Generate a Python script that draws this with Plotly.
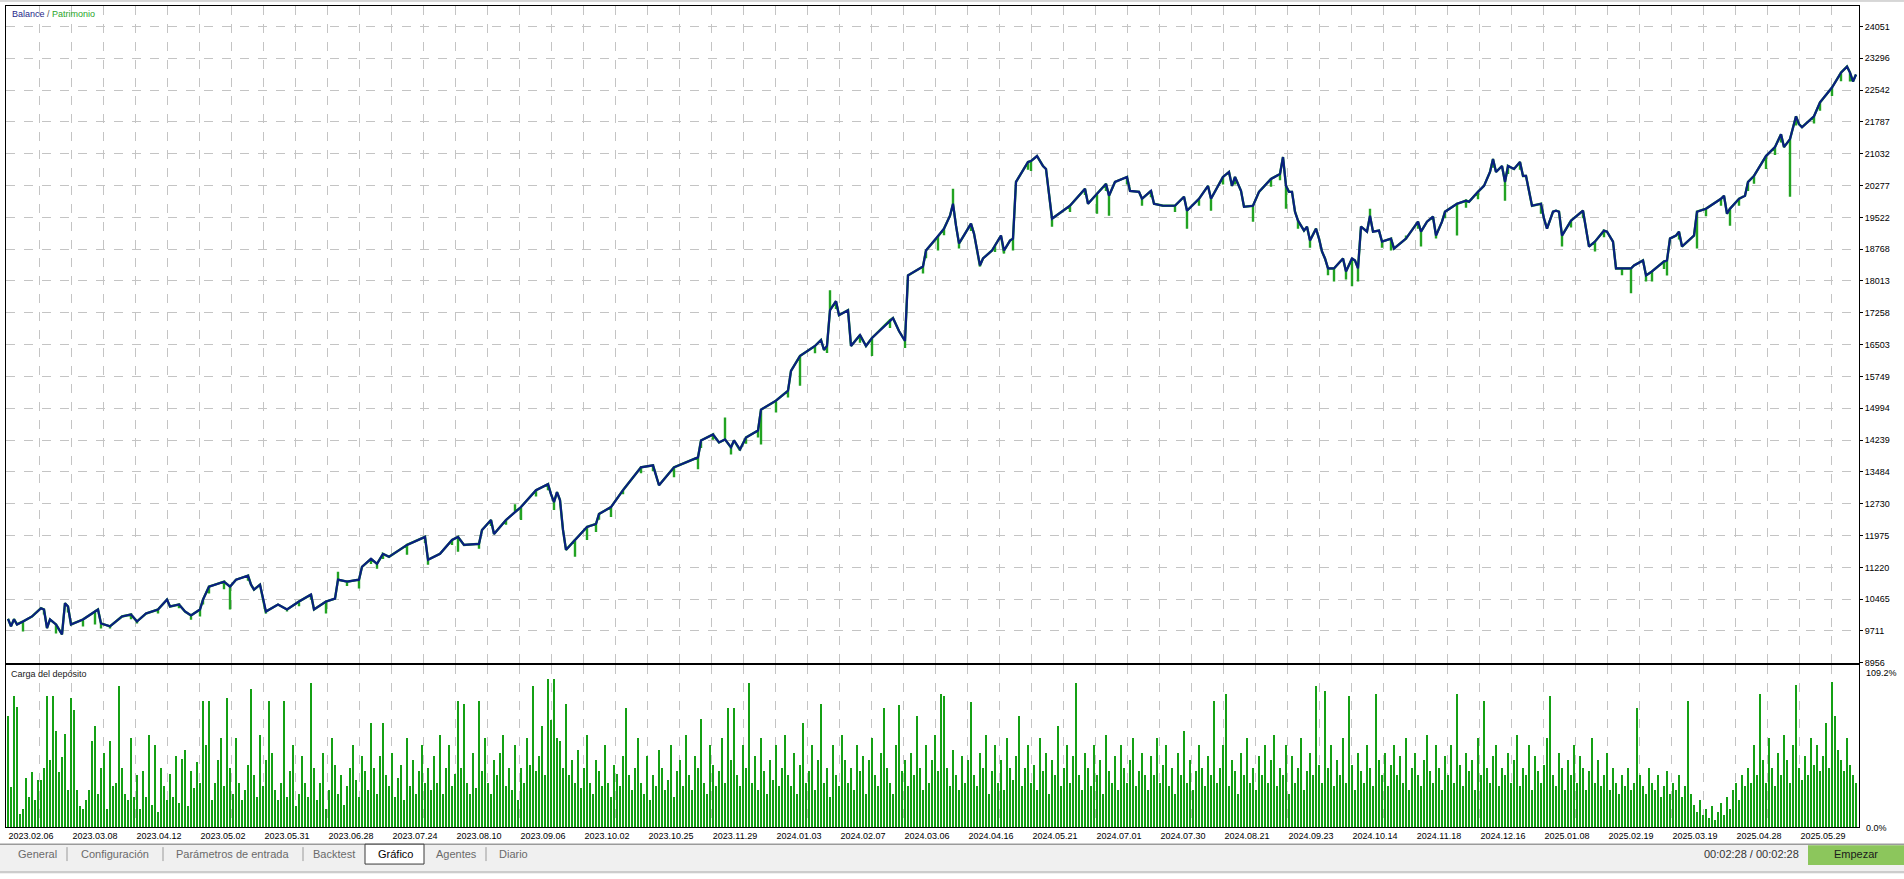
import plotly.graph_objects as go

# ---------------- data ----------------
dates = ["2023.02.06", "2023.03.08", "2023.04.12", "2023.05.02", "2023.05.31", "2023.06.28",
         "2023.07.24", "2023.08.10", "2023.09.06", "2023.10.02", "2023.10.25", "2023.11.29",
         "2024.01.03", "2024.02.07", "2024.03.06", "2024.04.16", "2024.05.21", "2024.07.01",
         "2024.07.30", "2024.08.21", "2024.09.23", "2024.10.14", "2024.11.18", "2024.12.16",
         "2025.01.08", "2025.02.19", "2025.03.19", "2025.04.28", "2025.05.29"]

y_ticks = [8956, 9711, 10465, 11220, 11975, 12730, 13484, 14239, 14994, 15749, 16503,
           17258, 18013, 18768, 19522, 20277, 21032, 21787, 22542, 23296, 24051]

# balance: trade number -> balance
bal_t = [0, 1, 2, 3, 5, 8, 11, 12, 13, 14, 16, 18, 19, 20, 21, 25, 29, 30, 31, 34,
         38, 41, 43, 46, 50, 53, 54, 57, 59, 61, 64, 65, 67, 72, 74, 76, 80, 81, 82, 84,
         86, 90, 93, 97, 101, 102, 106, 109, 110, 113, 117, 118, 121, 123, 125, 127, 133, 139, 140, 144,
         148, 150, 152, 157, 158, 161, 162, 166, 169, 171, 176, 180, 181, 182, 183, 184, 185, 186, 189, 193,
         196, 197, 201, 205, 211, 215, 217, 222, 230, 231, 235, 237, 239, 241, 242, 244, 246, 250, 251, 256,
         260, 261, 264, 269, 271, 272, 273, 274, 276, 277, 280, 281, 284, 286, 288, 294, 295, 297, 299, 300,
         305, 306, 310, 312, 314, 315, 316, 317, 319, 321, 322, 324, 325, 328, 329, 331, 332, 334, 335, 336,
         340, 341, 343, 345, 346, 348, 354, 359, 360, 363, 366, 367, 369, 373, 374, 377, 378, 381, 382, 385,
         389, 392, 393, 397, 400, 401, 405, 407, 408, 409, 411, 412, 415, 417, 419, 421, 424, 425, 426, 427,
         428, 429, 430, 432, 433, 434, 436, 437, 438, 439, 440, 442, 445, 446, 448, 449, 450, 451, 453, 454,
         455, 457, 458, 461, 462, 466, 470, 471, 473, 475, 476, 478, 479, 483, 486, 487, 490, 492, 494, 495,
         496, 498, 499, 500, 502, 504, 505, 506, 508, 511, 512, 513, 515, 516, 517, 518, 521, 525, 527, 529,
         532, 533, 535, 536, 538, 541, 542, 545, 546, 548, 552, 553, 554, 556, 557, 558, 562, 563, 566, 571,
         572, 573, 574, 577, 579, 580, 582, 586, 589, 591, 592, 594, 596, 597, 598, 602, 604, 608, 611, 613,
         614, 615, 616]
bal_v = [10000, 9820, 9991, 9866, 9937, 10055, 10251, 10220, 9780, 9984, 9866, 9630, 10370, 10291, 9866, 9984, 10173, 10220, 9890, 9820,
         10055, 10102, 9937, 10126, 10220, 10456, 10291, 10338, 10173, 10079, 10220, 10456, 10763, 10880, 10763, 10928, 11022, 10810, 10692, 10810,
         10173, 10338, 10220, 10409, 10574, 10220, 10409, 10480, 10928, 10880, 10928, 11234, 11423, 11305, 11541, 11470, 11753, 11942, 11400, 11541,
         11871, 11942, 11753, 11777, 12107, 12343, 12013, 12343, 12532, 12650, 13051, 13193, 12957, 12768, 13004, 12815, 12107, 11635, 11871, 12178,
         12249, 12485, 12650, 13051, 13593, 13640, 13168, 13593, 13829, 14230, 14372, 14183, 14254, 14065, 14230, 14018, 14301, 14466, 14961, 15174,
         15410, 15882, 16236, 16472, 16613, 16377, 16472, 17321, 17534, 17203, 17321, 16472, 16732, 16472, 16661, 17085, 17132, 16826, 16590, 18146,
         18358, 18736, 19066, 19255, 19562, 19845, 19326, 18901, 19137, 19373, 19137, 18382, 18547, 18736, 18854, 19090, 18736, 18972, 19019, 20363,
         20835, 20859, 20977, 20741, 20670, 19491, 19798, 20199, 19845, 20081, 20317, 20034, 20363, 20481, 20151, 20128, 19963, 20151, 19845, 19798,
         19798, 20010, 19680, 19963, 20269, 19963, 20481, 20599, 20269, 20481, 20151, 19774, 19798, 20128, 20269, 20434, 20552, 20953, 20269, 20128,
         20128, 19656, 19444, 19208, 19302, 18972, 19255, 19019, 18712, 18547, 18311, 18311, 18547, 18240, 18547, 18500, 18311, 19302, 19184, 19562,
         19184, 19208, 18948, 19019, 18783, 19019, 19420, 19184, 19420, 19538, 19090, 19420, 19656, 19845, 19916, 19892, 20128, 20269, 20599, 20906,
         20599, 20741, 20363, 20741, 20670, 20835, 20505, 20505, 19798, 19845, 19491, 19255, 19656, 19680, 19656, 19090, 19444, 19680, 18830, 18948,
         19208, 19184, 18948, 18311, 18311, 18311, 18382, 18500, 18146, 18240, 18476, 18500, 19019, 19090, 19184, 18830, 19090, 19656, 19727, 19963,
         20034, 19609, 19727, 19963, 20034, 20363, 20505, 20977, 21189, 21496, 21189, 21378, 21920, 21732, 21661, 21920, 22250, 22603, 22957, 23098,
         22957, 22745, 22910]

# equity extremes (floating drawdowns / gains) at the trade where they occur
dip_t = [5, 16, 25, 29, 31, 34, 43, 50, 64, 65, 67, 74, 86, 93, 106, 110, 117, 123, 133, 140,
         150, 157, 169, 171, 182, 189, 193, 196, 201, 205, 222, 230, 239, 241, 244, 251, 256, 264, 273, 274,
         288, 299, 305, 310, 315, 317, 324, 332, 335, 341, 348, 363, 367, 378, 393, 401, 415, 426, 430, 442,
         448, 450, 454, 461, 466, 471, 476, 483, 499, 511, 518, 529, 541, 546, 548, 553, 563, 574, 582, 586,
         594, 614]
dip_v = [9700, 9654, 9820, 9866, 9772, 9772, 9890, 10126, 10055, 10338, 10598, 10220, 10126, 10173, 10126, 11117, 10716, 11187, 11517, 11281,
         11588, 11659, 12720, 12343, 12579, 11470, 11871, 12060, 12414, 12957, 13357, 13546, 14773, 13900, 13994, 14136, 14891, 15527, 16307, 17792,
         16236, 16425, 18193, 18736, 20199, 18783, 18358, 18665, 18736, 20623, 19302, 19609, 19562, 19798, 19255, 19680, 19420, 19727, 19255, 18003,
         17886, 18003, 19727, 18736, 19090, 18830, 19019, 19090, 19916, 19609, 18830, 18712, 17721, 18003, 18003, 18146, 18783, 19326, 20317, 20670,
         20010, 22745]

# smaller floating drawdowns seen as a green fringe under the balance line
small_dip_t = [12, 20, 41, 57, 61, 72, 80, 97, 101, 113, 121, 125, 139, 148, 161, 166, 176, 180, 197, 211,
               215, 231, 235, 246, 250, 260, 269, 276, 284, 294, 306, 312, 321, 329, 340, 354, 359, 366, 373, 381,
               389, 397, 405, 409, 421, 424, 434, 440, 446, 458, 470, 479, 486, 490, 495, 500, 504, 521, 525, 532,
               538, 552, 557, 566, 571, 577, 580, 589, 591, 596, 602, 604, 608, 611]
small_dip_v = [10100, 10150, 9990, 10250, 9980, 10700, 10900, 10300, 10450, 10780, 11300, 11420, 11800, 11750, 12200, 12230, 12900, 13050, 12350, 13450,
               13500, 14050, 14250, 14150, 14300, 15250, 16300, 17350, 16550, 16900, 18550, 19100, 19200, 18700, 20650, 19650, 20050, 20150, 20300, 20000,
               19650, 19800, 20300, 20300, 20250, 20400, 18800, 18150, 18050, 18800, 19250, 19500, 19750, 19950, 20700, 20550, 20650, 19280, 19500, 19050,
               18150, 18300, 19000, 19550, 19800, 19800, 20150, 21000, 21300, 21700, 21750, 22050, 22400, 22750]

# deposit load (%) per trade
load = [75, 27, 88, 81, 9, 12, 33, 20, 37, 18, 32, 32, 40, 88, 45, 88, 65, 37, 47, 63,
        25, 87, 79, 25, 14, 12, 18, 25, 58, 68, 22, 40, 50, 12, 58, 28, 30, 95, 40, 22,
        18, 60, 20, 35, 12, 38, 20, 62, 15, 55, 10, 40, 28, 18, 36, 20, 48, 16, 46, 52,
        14, 38, 26, 44, 30, 85, 55, 85, 18, 30, 45, 60, 28, 87, 40, 22, 60, 30, 18, 25,
        42, 93, 35, 20, 62, 28, 45, 85, 50, 25, 18, 30, 85, 20, 38, 55, 14, 22, 48, 30,
        20, 97, 40, 18, 30, 50, 12, 25, 60, 42, 22, 35, 15, 28, 40, 55, 32, 20, 48, 38,
        25, 70, 40, 22, 48, 70, 35, 28, 50, 20, 33, 42, 18, 60, 28, 45, 22, 38, 55, 30,
        40, 25, 48, 30, 62, 22, 40, 55, 28, 36, 85, 40, 83, 30, 22, 50, 26, 85, 38, 60,
        30, 22, 45, 35, 50, 62, 28, 40, 25, 55, 18, 40, 30, 60, 42, 95, 38, 48, 68, 35,
        100, 72, 100, 60, 58, 40, 83, 35, 45, 30, 52, 26, 40, 62, 30, 22, 45, 38, 28, 55,
        30, 20, 42, 36, 28, 48, 80, 35, 25, 40, 60, 30, 22, 48, 18, 35, 28, 52, 40, 25,
        32, 55, 20, 38, 45, 28, 62, 35, 25, 48, 40, 73, 30, 22, 55, 42, 28, 38, 60, 30,
        80, 45, 80, 35, 28, 55, 40, 97, 30, 48, 25, 60, 38, 22, 45, 32, 55, 28, 40, 62,
        35, 28, 50, 22, 42, 70, 30, 38, 55, 25, 45, 83, 30, 40, 20, 55, 35, 28, 62, 45,
        30, 40, 25, 55, 38, 48, 22, 45, 60, 35, 28, 50, 80, 40, 30, 22, 55, 82, 38, 45,
        28, 50, 35, 75, 40, 25, 55, 30, 45, 62, 38, 90, 88, 40, 28, 52, 35, 25, 48, 30,
        45, 84, 35, 28, 50, 40, 62, 22, 38, 55, 30, 45, 25, 60, 40, 32, 48, 75, 28, 40,
        55, 30, 42, 25, 60, 38, 50, 22, 45, 35, 68, 28, 40, 55, 30, 48, 97, 35, 25, 50,
        40, 28, 55, 35, 45, 22, 62, 38, 30, 48, 25, 55, 40, 30, 45, 60, 28, 38, 50, 35,
        25, 48, 35, 60, 30, 42, 55, 28, 40, 22, 50, 35, 65, 30, 45, 25, 38, 55, 40, 28,
        48, 35, 85, 30, 40, 55, 90, 28, 45, 38, 22, 50, 35, 60, 30, 40, 25, 48, 35, 55,
        30, 45, 62, 28, 40, 35, 55, 22, 48, 30, 40, 60, 25, 38, 50, 35, 95, 42, 30, 92,
        40, 55, 28, 45, 35, 60, 30, 88, 42, 25, 50, 38, 30, 55, 40, 28, 90, 45, 35, 50,
        28, 42, 55, 35, 48, 30, 60, 25, 40, 50, 35, 28, 45, 62, 38, 30, 55, 40, 25, 48,
        35, 55, 30, 90, 42, 28, 50, 38, 45, 25, 60, 35, 85, 40, 30, 48, 55, 28, 40, 35,
        50, 30, 45, 62, 28, 40, 35, 55, 25, 48, 38, 30, 42, 60, 88, 35, 28, 50, 40, 25,
        45, 35, 55, 30, 48, 40, 25, 38, 60, 30, 45, 28, 35, 50, 25, 40, 30, 22, 35, 28,
        40, 25, 30, 80, 35, 28, 22, 40, 30, 25, 35, 20, 28, 38, 22, 30, 25, 35, 20, 28,
        85, 22, 15, 10, 18, 8, 12, 6, 14, 5, 10, 16, 8, 20, 12, 25, 30, 18, 35, 28,
        40, 30, 55, 35, 90, 45, 30, 60, 40, 28, 50, 35, 62, 45, 30, 55, 96, 40, 32, 48,
        35, 60, 42, 55, 38, 48, 70, 40, 98, 75, 52, 45, 38, 60, 42, 35, 30]

load_max_label = "109.2%"
load_min_label = "0.0%"
tabs = ["General", "Configuración", "Parámetros de entrada", "Backtest", "Gráfico", "Agentes", "Diario"]
timer_text = "00:02:28 / 00:02:28"
button_text = "Empezar"

# ---------------- geometry (pixels) ----------------
W, H = 1904, 879
PLOT_L, PLOT_R = 6, 1859
MAIN_T, MAIN_B = 6, 667
LOW_T, LOW_B = 669, 832
FIRST_PX = 8.0
PX_PER_TRADE = 3.0


def t_at(px):
    return (px - FIRST_PX) / PX_PER_TRADE


def xp(px):
    return px / W


def yp(py):
    return 1 - py / H


x_range = [t_at(PLOT_L), t_at(PLOT_R)]
grid_t = [t_at(39 + 32 * k) for k in range(57)]
date_t = [t_at(31 + 64 * k) for k in range(len(dates))]

val_per_px = (y_ticks[-1] - y_ticks[0]) / (20 * 32.0)
ZERO_PX = 666.6
y_range = [y_ticks[0] - (MAIN_B - ZERO_PX) * val_per_px, y_ticks[0] + (ZERO_PX - MAIN_T) * val_per_px]

NAVY = "#0a1f80"
EQ_GREEN = "#22a322"
BAR_GREEN = "rgba(19,160,19,0.995)"
GRID = "#c4c4c4"
FONT = "Liberation Sans, Arial, sans-serif"

# equity path: follows the balance, with vertical excursions where equity deviated
dips = dict(zip(small_dip_t, small_dip_v))
dips.update(dict(zip(dip_t, dip_v)))
eq_x, eq_y = [], []
for t, b in zip(bal_t, bal_v):
    eq_x.append(t)
    eq_y.append(b)
    if t in dips:
        eq_x += [t, t]
        eq_y += [dips[t], b]

fig = go.Figure()
fig.add_trace(go.Scatter(x=eq_x, y=eq_y, mode="lines",
                         line=dict(color=EQ_GREEN, width=2.4), xaxis="x", yaxis="y",
                         hoverinfo="skip", showlegend=False))
fig.add_trace(go.Scatter(x=bal_t, y=bal_v, mode="lines",
                         line=dict(color=NAVY, width=2.2), xaxis="x", yaxis="y",
                         hoverinfo="skip", showlegend=False))
fig.add_trace(go.Bar(x=list(range(len(load))), y=load, width=0.66,
                     marker=dict(color=BAR_GREEN, line=dict(width=0)),
                     xaxis="x2", yaxis="y2", hoverinfo="skip", showlegend=False))

frame = dict(showline=True, mirror=True, linecolor="#000000", linewidth=1, zeroline=False)

fig.update_layout(
    width=W, height=H,
    margin=dict(l=0, r=0, t=0, b=0),
    paper_bgcolor="#ffffff", plot_bgcolor="#ffffff",
    font=dict(family=FONT, size=9, color="#000000"),
    showlegend=False,
    bargap=0,
    xaxis=dict(domain=[xp(PLOT_L), xp(PLOT_R)], range=x_range, anchor="y",
               tickmode="array", tickvals=grid_t, showticklabels=False, ticks="",
               showgrid=True, gridcolor=GRID, gridwidth=1, griddash="dash", **frame),
    yaxis=dict(domain=[yp(MAIN_B), yp(MAIN_T)], range=y_range, anchor="x", side="right",
               tickmode="array", tickvals=y_ticks, ticktext=[str(v) for v in y_ticks],
               ticks="outside", ticklen=3, tickcolor="#000000", tickfont=dict(size=9),
               showgrid=True, gridcolor=GRID, gridwidth=1, griddash="dash", **frame),
    xaxis2=dict(domain=[xp(PLOT_L), xp(PLOT_R)], range=x_range, anchor="y2",
                tickmode="array", tickvals=date_t, ticktext=dates, ticks="",
                tickfont=dict(size=9), showgrid=False,
                minor=dict(tickmode="array", tickvals=grid_t, showgrid=True, gridcolor=GRID,
                           gridwidth=1, griddash="dash", ticks=""),
                **frame),
    yaxis2=dict(domain=[yp(LOW_B), yp(LOW_T)], range=[0, 109.2], anchor="x2",
                showticklabels=False, ticks="", showgrid=False, **frame),
)

ann = []


def text(px, py, s, size=9, color="#000000", xanchor="left"):
    ann.append(dict(x=xp(px), y=yp(py), xref="paper", yref="paper", text=s, showarrow=False,
                    xanchor=xanchor, yanchor="middle", font=dict(size=size, color=color, family=FONT)))


text(10, 14, "<span style='color:#1f1f8a'>Balance</span> <span style='color:#555'>/</span> "
             "<span style='color:#2aa52a'>Patrimonio</span>")
text(9, 678, "Carga del depósito", color="#202020")
text(1864, 677, load_max_label)
text(1864, 833, load_min_label)

tab_centers = [37, 115, 232, 334, 395, 456, 513]
for name, cx in zip(tabs, tab_centers):
    text(cx, 859, name, size=11, color="#000000" if name == "Gráfico" else "#6a6a6a", xanchor="center")
text(1751, 859, timer_text, size=11, color="#333333", xanchor="center")
text(1856, 859, button_text, size=11, color="#1a1a1a", xanchor="center")

shapes = [
    dict(type="line", xref="paper", yref="paper", x0=0, x1=1, y0=yp(1), y1=yp(1),
         line=dict(color="#b0b0b0", width=1)),
    dict(type="rect", xref="paper", yref="paper", x0=0, x1=1, y0=yp(879), y1=yp(849),
         fillcolor="#f0f0f0", line=dict(width=0), layer="below"),
    dict(type="line", xref="paper", yref="paper", x0=0, x1=1, y0=yp(849), y1=yp(849),
         line=dict(color="#6e6e6e", width=1)),
    dict(type="line", xref="paper", yref="paper", x0=0, x1=1, y0=yp(877), y1=yp(877),
         line=dict(color="#a8a8a8", width=1)),
    dict(type="rect", xref="paper", yref="paper", x0=xp(365), x1=xp(424), y0=yp(869), y1=yp(849),
         fillcolor="#ffffff", line=dict(color="#3a3a3a", width=1)),
    dict(type="rect", xref="paper", yref="paper", x0=xp(1808), x1=xp(1904), y0=yp(870), y1=yp(850),
         fillcolor="#8cc65c", line=dict(width=0)),
]
for sx in [67, 163, 303, 486]:
    shapes.append(dict(type="line", xref="paper", yref="paper", x0=xp(sx), x1=xp(sx),
                       y0=yp(866), y1=yp(852), line=dict(color="#9a9a9a", width=1)))

fig.update_layout(annotations=ann, shapes=shapes)

fig.write_html("out.html", config={"displayModeBar": False},
               post_script="document.body.style.margin='0';document.body.style.overflow='hidden';")
